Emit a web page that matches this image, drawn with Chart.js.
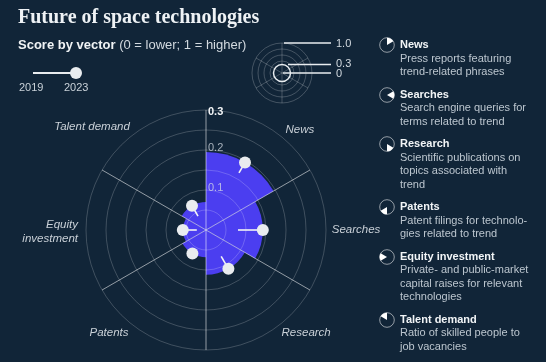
<!DOCTYPE html>
<html><head><meta charset="utf-8">
<script src="https://cdn.jsdelivr.net/npm/chart.js@4.4.1/dist/chart.umd.min.js"></script>
<style>
html,body{margin:0;padding:0;background:#112538;width:546px;height:362px;overflow:hidden;font-family:"Liberation Sans",Arial,sans-serif;}
#wrap{position:relative;width:546px;height:362px;}
#c{position:absolute;left:0;top:0;}
.t{position:absolute;white-space:nowrap;}
#legend{position:absolute;left:378px;top:38px;}
.item{position:relative;padding-left:22px;margin-bottom:9px;font-size:11px;line-height:13.5px;color:#bcc6cf;}
.item b{color:#f2f5f7;display:block;}
.item svg{position:absolute;left:0px;top:-2px;}
</style></head><body>
<div id="wrap">
<canvas id="c" width="546" height="362"></canvas>
<div class="t" style="left:18px;top:5px;font-family:'Liberation Serif',serif;font-weight:bold;font-size:20px;color:#eef2f5;">Future of space technologies</div>
<div class="t" style="left:18px;top:37px;font-size:13px;color:#f0f3f5;"><b>Score by vector</b> <span style="color:#d3dae0">(0 = lower; 1 = higher)</span></div>
<div class="t" style="left:19px;top:81px;font-size:11px;color:#c9d1d8">2019</div>
<div class="t" style="left:64px;top:81px;font-size:11px;color:#c9d1d8">2023</div>
<div class="t" style="left:336px;top:37px;font-size:11px;color:#d3dae0">1.0</div>
<div class="t" style="left:336px;top:57px;font-size:11px;color:#d3dae0">0.3</div>
<div class="t" style="left:336px;top:67px;font-size:11px;color:#d3dae0">0</div>
<div id="legend"></div>
</div>
<script>
// ---- data ----
const categories = ['News', 'Searches', 'Research', 'Patents', 'Equity investment', 'Talent demand'];
const axisLabels = [['News'], ['Searches'], ['Research'], ['Patents'], ['Equity', 'investment'], ['Talent demand']];
const descriptions = [
  ['Press reports featuring', 'trend-related phrases'],
  ['Search engine queries for', 'terms related to trend'],
  ['Scientific publications on', 'topics associated with', 'trend'],
  ['Patent filings for technolo-', 'gies related to trend'],
  ['Private- and public-market', 'capital raises for relevant', 'technologies'],
  ['Ratio of skilled people to', 'job vacancies']
];
const score2023 = [0.195, 0.142, 0.112, 0.068, 0.058, 0.070];
const score2019 = [0.165, 0.080, 0.076, 0.068, 0.023, 0.040];
const tickValues = [0.1, 0.2, 0.3];
const tickLabels = ['0.1', '0.2', '0.3'];
const scaleMax = 0.3;
const ringStep = 0.05;

// ---- layout (label placement as polar offsets from the scale centre) ----
const labelPlacement = [
  {deg: -46.8, f: 1.143, align: 'center'},
  {deg: 0, f: 1.25, align: 'center'},
  {deg: 45.8, f: 1.197, align: 'center'},
  {deg: 133.3, f: 1.179, align: 'center'},
  {deg: 179, f: 1.067, align: 'right'},
  {deg: -137.9, f: 1.28, align: 'center'}
];

const PURPLE = '#4b3ef0';

// legend
const legend = document.getElementById('legend');
categories.forEach((c, i) => {
  const n = categories.length;
  const a0 = (-90 + 360 / n * i) * Math.PI / 180, a1 = (-90 + 360 / n * (i + 1)) * Math.PI / 180;
  const cx = 9, cy = 9, r = 7.3;
  const p = `M${cx},${cy} L${cx + r * Math.cos(a0)},${cy + r * Math.sin(a0)} A${r},${r} 0 0 1 ${cx + r * Math.cos(a1)},${cy + r * Math.sin(a1)} Z`;
  const div = document.createElement('div');
  div.className = 'item';
  div.innerHTML = `<svg width="18" height="18"><circle cx="9" cy="9" r="7.3" fill="none" stroke="rgba(255,255,255,0.55)" stroke-width="1"/><path d="${p}" fill="#ffffff"/></svg><b>${c}</b>` + descriptions[i].join('<br>');
  legend.appendChild(div);
});

const overlay = {
  id: 'overlay',
  afterDraw(chart) {
    const ctx = chart.ctx;
    const s = chart.scales.r;
    const cx = s.xCenter, cy = s.yCenter, R = s.drawingArea;
    const n = categories.length;
    ctx.save();
    // tails + dots
    categories.forEach((c, i) => {
      const ang = s.getIndexAngle(i) + Math.PI / n - Math.PI / 2;
      const r1 = s.getDistanceFromCenterForValue(score2019[i]);
      const r2 = s.getDistanceFromCenterForValue(score2023[i]);
      ctx.strokeStyle = '#f2f4f6';
      ctx.lineWidth = 1.6;
      ctx.beginPath();
      ctx.moveTo(cx + r1 * Math.cos(ang), cy + r1 * Math.sin(ang));
      ctx.lineTo(cx + r2 * Math.cos(ang), cy + r2 * Math.sin(ang));
      ctx.stroke();
      ctx.fillStyle = '#e9ecef';
      ctx.beginPath();
      ctx.arc(cx + r2 * Math.cos(ang), cy + r2 * Math.sin(ang), 6, 0, Math.PI * 2);
      ctx.fill();
    });
    // tick labels
    ctx.textAlign = 'left';
    ctx.textBaseline = 'middle';
    tickValues.forEach((v, k) => {
      const d = s.getDistanceFromCenterForValue(v);
      const last = k === tickValues.length - 1;
      ctx.font = (last ? 'bold ' : '') + '11px "Liberation Sans", Arial, sans-serif';
      ctx.fillStyle = last ? '#f4f6f8' : 'rgba(215,222,230,0.75)';
      ctx.fillText(tickLabels[k], cx + 2, cy - d + (last ? 2 : -2));
    });
    // axis labels
    ctx.font = 'italic 11.5px "Liberation Sans", Arial, sans-serif';
    ctx.fillStyle = '#c9d0d7';
    axisLabels.forEach((lines, i) => {
      const pl = labelPlacement[i];
      const a = pl.deg * Math.PI / 180;
      const x = cx + pl.f * R * Math.cos(a), y = cy + pl.f * R * Math.sin(a);
      ctx.textAlign = pl.align;
      const lh = 14;
      lines.forEach((t, j) => ctx.fillText(t, x, y + (j - (lines.length - 1) / 2) * lh));
    });
    // mini scale legend (top)
    const mx = 282, my = 73;
    ctx.strokeStyle = 'rgba(255,255,255,0.22)';
    ctx.lineWidth = 1;
    [12, 18, 24, 30].forEach(r => { ctx.beginPath(); ctx.arc(mx, my, r, 0, Math.PI * 2); ctx.stroke(); });
    for (let k = 0; k < 3; k++) {
      const a = (-90 + 60 * k) * Math.PI / 180;
      ctx.beginPath();
      ctx.moveTo(mx - 30 * Math.cos(a), my - 30 * Math.sin(a));
      ctx.lineTo(mx + 30 * Math.cos(a), my + 30 * Math.sin(a));
      ctx.stroke();
    }
    ctx.strokeStyle = '#e8ecef';
    ctx.lineWidth = 1.5;
    ctx.beginPath(); ctx.arc(mx, my, 8.5, 0, Math.PI * 2); ctx.stroke();
    [[43, 284], [64.5, 288], [73, 283]].forEach(([y, x0]) => {
      ctx.beginPath(); ctx.moveTo(x0, y); ctx.lineTo(331, y); ctx.stroke();
    });
    // year slider legend
    ctx.lineWidth = 2;
    ctx.beginPath(); ctx.moveTo(33, 73); ctx.lineTo(75, 73); ctx.stroke();
    ctx.fillStyle = '#e9ecef';
    ctx.beginPath(); ctx.arc(76, 73, 6, 0, Math.PI * 2); ctx.fill();
    ctx.restore();
  }
};

new Chart(document.getElementById('c'), {
  type: 'polarArea',
  data: {
    labels: categories,
    datasets: [{
      label: '2023',
      data: score2023,
      backgroundColor: PURPLE,
      borderWidth: 0
    }]
  },
  options: {
    responsive: false,
    animation: false,
    devicePixelRatio: 1,
    layout: {padding: {left: 86, right: 220, top: 110, bottom: 12}},
    plugins: {legend: {display: false}, tooltip: {enabled: false}},
    scales: {
      r: {
        min: 0,
        max: scaleMax,
        startAngle: 0,
        ticks: {display: false, stepSize: ringStep, z: 1},
        grid: {circular: true, color: 'rgba(255,255,255,0.2)', lineWidth: 1, z: 1},
        angleLines: {display: true, color: 'rgba(255,255,255,0.55)', lineWidth: 1},
        pointLabels: {display: false}
      }
    }
  },
  plugins: [overlay]
});
</script>
</body></html>
